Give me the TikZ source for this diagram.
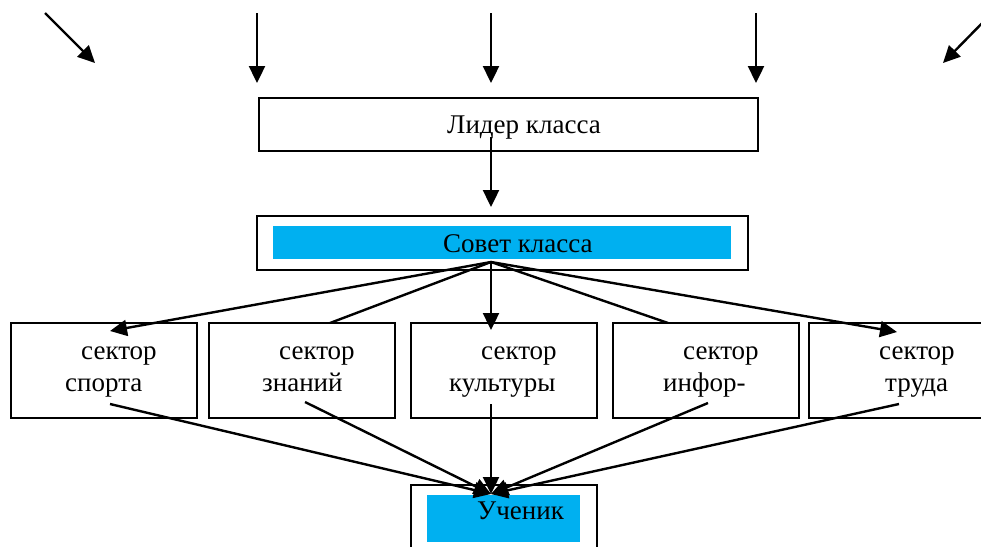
\documentclass[tikz,border=0pt]{standalone}
\usepackage{fontspec}
\setmainfont{Liberation Serif}
\usetikzlibrary{arrows.meta}
\definecolor{wordblue}{HTML}{00B0F0}
\begin{document}
\begin{tikzpicture}[x=1pt,y=-1pt,
  box/.style={draw=black,line width=2.4pt,fill=white},
  conn/.style={line width=2.4pt},
  arr/.style={conn,-{Triangle[length=17pt,width=16pt]}},
  txt/.style={anchor=base west,inner sep=0pt,font=\fontsize{27}{32}\selectfont}]
\useasboundingbox (0,0) rectangle (981,546);
\clip (0,0) rectangle (981,546);
\fill[white] (0,0) rectangle (981,546);
% top free arrows
\coordinate (t1s) at (45,13);  \coordinate (t1e) at (95,63);
\coordinate (t2s) at (257,13); \coordinate (t2e) at (257,83);
\coordinate (t3s) at (491,13); \coordinate (t3e) at (491,83);
\coordinate (t4s) at (756,13); \coordinate (t4e) at (756,83);
\coordinate (t5s) at (993,12); \coordinate (t5e) at (943,63);
\foreach \i in {1,...,5} \draw[arr] (t\i s) -- (t\i e);
% leader
\node[box,minimum width=499pt,minimum height=53pt,anchor=north west] (lider) at (258,97) {};
\node[txt] (lidert) at (447,133) {Лидер класса};
\coordinate (lo) at (491,137);
\coordinate (si) at (491,207);
\draw[arr] (lo) -- (si);
% sovet
\node[box,minimum width=491pt,minimum height=54pt,anchor=north west] (sovet) at (256,215) {};
\node[fill=wordblue,minimum width=458pt,minimum height=33pt,inner sep=0pt,anchor=north west] (sovetbl) at (273,226) {};
\node[txt] (sovett) at (443,252) {Совет класса};
\coordinate (so) at (491,262);
% sector connectors
\coordinate (a1) at (110,331);
\coordinate (a2) at (330,323);
\coordinate (a3) at (491,330);
\coordinate (a4) at (668,323);
\coordinate (a5) at (897,332);
\draw[conn] (so) -- (a2);
\draw[conn] (so) -- (a4);
% sectors
\node[box,minimum width=186pt,minimum height=95pt,anchor=north west] (s1) at (10,322) {};
\node[box,minimum width=186pt,minimum height=95pt,anchor=north west] (s2) at (208,322) {};
\node[box,minimum width=186pt,minimum height=95pt,anchor=north west] (s3) at (410,322) {};
\node[box,minimum width=186pt,minimum height=95pt,anchor=north west] (s4) at (612,322) {};
\node[box,minimum width=186pt,minimum height=95pt,anchor=north west] (s5) at (808,322) {};
\draw[arr] (so) -- (a1);
\draw[arr] (so) -- (a3);
\draw[arr] (so) -- (a5);
\node[txt] (s1a) at (81,359) {сектор};
\node[txt] (s1b) at (65,391) {спорта};
\node[txt] (s2a) at (279,359) {сектор};
\node[txt] (s2b) at (262,391) {знаний};
\node[txt] (s3a) at (481,359) {сектор};
\node[txt] (s3b) at (449,391) {культуры};
\node[txt] (s4a) at (683,359) {сектор};
\node[txt] (s4b) at (663,391) {инфор-};
\node[txt] (s5a) at (879,359) {сектор};
\node[txt] (s5b) at (885,391) {труда};
% student
\node[box,minimum width=186pt,minimum height=100pt,anchor=north west] (uch) at (410,484) {};
\node[fill=wordblue,minimum width=153pt,minimum height=47pt,inner sep=0pt,anchor=north west] (uchbl) at (427,495) {};
\node[txt] (ucht) at (477,519) {Ученик};
\coordinate (b1) at (110,404);
\coordinate (b2) at (305,402);
\coordinate (b3) at (491,404);
\coordinate (b4) at (708,403);
\coordinate (b5) at (899,404);
\coordinate (ui) at (491,494);
\foreach \i in {1,...,5} \draw[arr] (b\i) -- (ui);
\end{tikzpicture}
\end{document}
